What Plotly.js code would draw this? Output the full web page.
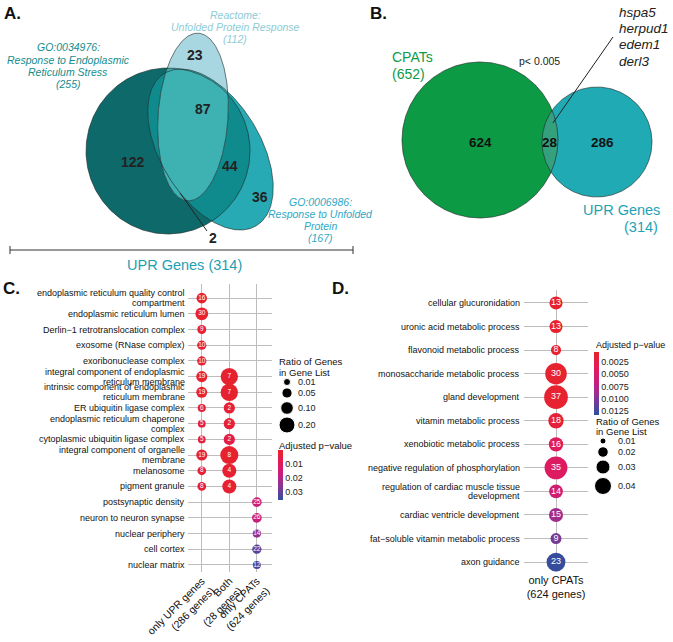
<!DOCTYPE html>
<html><head><meta charset="utf-8">
<script src="https://cdn.plot.ly/plotly-3.0.1.min.js"></script>
<style>html,body{margin:0;padding:0;background:#fff}#chart{width:673px;height:642px}</style>
</head><body><div id="chart"></div>
<script>
// ================= DATA =================
// Panel A: UPR gene sets
const vennA_setNames = ["GO:0034976:", "Reactome:", "GO:0006986:"];
const vennA_setDesc = [["Response to Endoplasmic", "Reticulum Stress"], ["Unfolded Protein Response"], ["Response to Unfolded", "Protein"]];
const vennA_setSizes = [255, 112, 167];
const vennA_regionCounts = [23, 87, 122, 44, 36, 2]; // Reactome only, all three, ER only, ER+UPR, UPR only, ER+Reactome
const vennA_total = 314;
// Panel B
const vennB_setNames = ["CPATs", "UPR Genes"];
const vennB_setSizes = [652, 314];
const vennB_regionCounts = [624, 28, 286];
const vennB_pText = "p< 0.005";
const vennB_genes = ["hspa5", "herpud1", "edem1", "derl3"];
// Panel C
const cColumns = ["only UPR genes<br>(286 genes)", "Both<br>(28 genes)", "only CPATs<br>(624 genes)"];
const cTerms = [
  "endoplasmic reticulum quality control<br>compartment",
  "endoplasmic reticulum lumen",
  "Derlin\u22121 retrotranslocation complex",
  "exosome (RNase complex)",
  "exoribonuclease complex",
  "integral component of endoplasmic<br>reticulum membrane",
  "intrinsic component of endoplasmic<br>reticulum membrane",
  "ER ubiquitin ligase complex",
  "endoplasmic reticulum chaperone<br>complex",
  "cytoplasmic ubiquitin ligase complex",
  "integral component of organelle<br>membrane",
  "melanosome",
  "pigment granule",
  "postsynaptic density",
  "neuron to neuron synapse",
  "nuclear periphery",
  "cell cortex",
  "nuclear matrix"];
const cCountUPR  = [16, 30, 9, 10, 10, 19, 19, 6, 5, 5, 19, 8, 8, null, null, null, null, null];
const cRatioUPR  = [0.056, 0.105, 0.031, 0.035, 0.035, 0.066, 0.066, 0.021, 0.017, 0.017, 0.066, 0.028, 0.028, null, null, null, null, null];
const cPadjUPR   = [0.001, 0.0005, 0.002, 0.002, 0.002, 0.001, 0.001, 0.002, 0.003, 0.003, 0.002, 0.003, 0.003, null, null, null, null, null];
const cCountBoth = [null, null, null, null, null, 7, 7, 2, 2, 2, 8, 4, 4, null, null, null, null, null];
const cRatioBoth = [null, null, null, null, null, 0.25, 0.25, 0.07, 0.07, 0.07, 0.28, 0.14, 0.14, null, null, null, null, null];
const cPadjBoth  = [null, null, null, null, null, 0.001, 0.001, 0.003, 0.003, 0.006, 0.001, 0.002, 0.002, null, null, null, null, null];
const cCountCPAT = [null, null, null, null, null, null, null, null, null, null, null, null, null, 25, 26, 14, 22, 12];
const cRatioCPAT = [null, null, null, null, null, null, null, null, null, null, null, null, null, 0.040, 0.042, 0.022, 0.035, 0.019];
const cPadjCPAT  = [null, null, null, null, null, null, null, null, null, null, null, null, null, 0.016, 0.017, 0.024, 0.031, 0.033];
const cSizeLegend = [0.01, 0.05, 0.10, 0.20];
const cSizeLegendText = ["0.01", "0.05", "0.10", "0.20"];
const cColorTicks = [0.01, 0.02, 0.03];
const cColorTickText = ["0.01", "0.02", "0.03"];
// Panel D
const dColumn = ["only CPATs<br>(624 genes)"];
const dTerms = [
  "cellular glucuronidation",
  "uronic acid metabolic process",
  "flavonoid metabolic process",
  "monosaccharide metabolic process",
  "gland development",
  "vitamin metabolic process",
  "xenobiotic metabolic process",
  "negative regulation of phosphorylation",
  "regulation of cardiac muscle tissue<br>development",
  "cardiac ventricle development",
  "fat\u2212soluble vitamin metabolic process",
  "axon guidance"];
const dCount = [13, 13, 8, 30, 37, 18, 16, 35, 14, 15, 9, 23];
const dRatio = [0.027, 0.027, 0.019, 0.058, 0.068, 0.034, 0.031, 0.064, 0.029, 0.030, 0.021, 0.047];
const dPadj  = [0.0008, 0.0008, 0.0010, 0.0010, 0.0010, 0.0015, 0.0040, 0.0045, 0.0058, 0.0085, 0.0105, 0.0130];
const dSizeLegend = [0.01, 0.02, 0.03, 0.04];
const dSizeLegendText = ["0.01", "0.02", "0.03", "0.04"];
const dColorTicks = [0.0025, 0.005, 0.0075, 0.01, 0.0125];
const dColorTickText = ["0.0025", "0.0050", "0.0075", "0.0100", "0.0125"];

// ================= LAYOUT / STYLE =================
const W = 673, H = 642;
const FONT = "Liberation Sans, Arial, Helvetica, sans-serif";
const pColorscale = [[0, '#e8232a'], [0.28, '#e01a5c'], [0.5, '#c41f80'], [0.72, '#883594'], [1, '#2f4f9f']];
const sizeC = r => 4.4 + 25.9 * Math.sqrt(r);
const sizeD = r => -5 + 110 * Math.sqrt(r);
const neg = v => -v; // colour axis runs top (low p) to bottom (high p)

// Venn geometry (pixel canvas)
const gD = {cx: 168, cy: 151, rx: 82, ry: 83, ang: 0};
const gL = {cx: 193, cy: 117, rx: 35, ry: 84, ang: 3.7};
const gM = {cx: 210.5, cy: 149.5, rx: 89, ry: 50, ang: 59};
const gG = {cx: 480, cy: 140, rx: 78, ry: 78, ang: 0};
const gU = {cx: 597, cy: 142, rx: 55, ry: 55, ang: 0};

function ell(g, n) {
  const xs = [], ys = [], a = g.ang * Math.PI / 180;
  for (let i = 0; i <= n; i++) {
    const t = 2 * Math.PI * i / n, px = g.rx * Math.cos(t), py = g.ry * Math.sin(t);
    xs.push(g.cx + px * Math.cos(a) - py * Math.sin(a));
    ys.push(g.cy + px * Math.sin(a) + py * Math.cos(a));
  }
  return {xs, ys};
}
function inside(g, x, y) {
  const a = g.ang * Math.PI / 180, dx = x - g.cx, dy = y - g.cy;
  const u = dx * Math.cos(a) + dy * Math.sin(a), v = -dx * Math.sin(a) + dy * Math.cos(a);
  return (u * u) / (g.rx * g.rx) + (v * v) / (g.ry * g.ry) <= 1.0001;
}
function inter(gs) {
  const pts = [];
  gs.forEach((g, i) => {
    const e = ell(g, 1440);
    for (let k = 0; k < e.xs.length - 1; k++) {
      if (gs.every((h, j) => j === i || inside(h, e.xs[k], e.ys[k]))) pts.push([e.xs[k], e.ys[k]]);
    }
  });
  const mx = pts.reduce((s, p) => s + p[0], 0) / pts.length, my = pts.reduce((s, p) => s + p[1], 0) / pts.length;
  pts.sort((p, q) => Math.atan2(p[1] - my, p[0] - mx) - Math.atan2(q[1] - my, q[0] - mx));
  pts.push(pts[0]);
  return {xs: pts.map(p => p[0]), ys: pts.map(p => p[1])};
}
function fillTrace(poly, color) {
  return {type: 'scatter', mode: 'lines', x: poly.xs, y: poly.ys, fill: 'toself', fillcolor: color,
    line: {width: 0, color: color}, hoverinfo: 'skip', xaxis: 'x', yaxis: 'y'};
}
function outlineTrace(g) {
  const e = ell(g, 360);
  return {type: 'scatter', mode: 'lines', x: e.xs, y: e.ys, line: {width: 0.8, color: 'rgba(25,35,35,0.75)'},
    hoverinfo: 'skip', xaxis: 'x', yaxis: 'y'};
}

const traces = [];
// Panel A regions
traces.push(fillTrace(ell(gD, 360), '#0e6a6a'));
traces.push(fillTrace(ell(gM, 360), '#27aab3'));
traces.push(fillTrace(inter([gD, gM]), '#108b8d'));
traces.push(fillTrace(ell(gL, 360), '#a9d7e1'));
traces.push(fillTrace(inter([gL, gM]), '#3eb1b3'));
traces.push(fillTrace(inter([gL, gD]), '#3eb1b3'));
[gD, gM, gL].forEach(g => traces.push(outlineTrace(g)));
// Panel B regions
traces.push(fillTrace(ell(gG, 360), '#0c9a44'));
traces.push(fillTrace(ell(gU, 360), '#1faab4'));
traces.push(fillTrace(inter([gG, gU]), '#35a07c'));
[gG, gU].forEach(g => traces.push(outlineTrace(g)));

// Panel C dot plot
function colPoints(col, counts, ratios, padj) {
  const o = {x: [], y: [], t: [], s: [], c: []};
  counts.forEach((v, i) => {
    if (v !== null) { o.x.push(col); o.y.push(cTerms[i]); o.t.push(String(v)); o.s.push(sizeC(ratios[i])); o.c.push(neg(padj[i])); }
  });
  return o;
}
const cP = [colPoints(cColumns[0], cCountUPR, cRatioUPR, cPadjUPR),
            colPoints(cColumns[1], cCountBoth, cRatioBoth, cPadjBoth),
            colPoints(cColumns[2], cCountCPAT, cRatioCPAT, cPadjCPAT)];
const cAll = {x: [], y: [], t: [], s: [], c: []};
cP.forEach(p => { for (const k in cAll) cAll[k] = cAll[k].concat(p[k]); });
traces.push({
  type: 'scatter', mode: 'markers+text', xaxis: 'x2', yaxis: 'y2',
  x: cAll.x, y: cAll.y, text: cAll.t, textposition: 'middle center',
  textfont: {color: 'white', size: 6.5, family: FONT}, hoverinfo: 'skip', cliponaxis: false,
  marker: {size: cAll.s, color: cAll.c, opacity: 1, colorscale: pColorscale, reversescale: true,
    cmin: -0.0357, cmax: 0, line: {width: 0}, showscale: true,
    colorbar: {x: 278 / W, xanchor: 'left', xref: 'paper', y: 1 - 450 / H, yanchor: 'top', yref: 'paper',
      len: 50, lenmode: 'pixels', thickness: 5, thicknessmode: 'pixels', xpad: 0, ypad: 0, outlinewidth: 0,
      tickvals: cColorTicks.map(neg), ticktext: cColorTickText, ticks: '',
      tickfont: {size: 9, family: FONT, color: '#222'}, title: {text: ''}}}
});
// Panel D dot plot
traces.push({
  type: 'scatter', mode: 'markers+text', xaxis: 'x3', yaxis: 'y3',
  x: dTerms.map(() => dColumn[0]), y: dTerms, text: dCount.map(String), textposition: 'middle center',
  textfont: {color: 'white', size: 9, family: FONT}, hoverinfo: 'skip', cliponaxis: false,
  marker: {size: dRatio.map(sizeD), color: dPadj.map(neg), opacity: 1, colorscale: pColorscale, reversescale: true,
    cmin: -0.0133, cmax: -0.0005, line: {width: 0}, showscale: true,
    colorbar: {x: 594 / W, xanchor: 'left', xref: 'paper', y: 1 - 352 / H, yanchor: 'top', yref: 'paper',
      len: 63, lenmode: 'pixels', thickness: 5, thicknessmode: 'pixels', xpad: 0, ypad: 0, outlinewidth: 0,
      tickvals: dColorTicks.map(neg), ticktext: dColorTickText, ticks: '',
      tickfont: {size: 9, family: FONT, color: '#222'}, title: {text: ''}}}
});
// Size legends (drawn on pixel canvas)
const cLegY = [382, 393, 408, 425];
traces.push({type: 'scatter', mode: 'markers', xaxis: 'x', yaxis: 'y', x: cSizeLegend.map(() => 287), y: cLegY,
  marker: {size: cSizeLegend.map(sizeC), color: '#000', opacity: 1}, hoverinfo: 'skip'});
const dLegY = [441, 452, 467, 486];
traces.push({type: 'scatter', mode: 'markers', xaxis: 'x', yaxis: 'y', x: dSizeLegend.map(() => 603), y: dLegY,
  marker: {size: dSizeLegend.map(sizeD), color: '#000', opacity: 1}, hoverinfo: 'skip'});

// ================= ANNOTATIONS =================
const anns = [];
function ann(x, y, text, size, color, opts) {
  anns.push(Object.assign({x: x, y: y, xref: 'x', yref: 'y', text: text, showarrow: false,
    xanchor: 'center', yanchor: 'middle', font: {size: size, color: color, family: FONT}}, opts || {}));
}
// Row labels for the dot plots (right aligned, tight line spacing)
function rowLabels(terms, xPix, yref, size, gap) {
  terms.forEach((t, i) => {
    const lines = t.split('<br>');
    lines.forEach((ln, k) => {
      const shift = lines.length === 1 ? 0 : (k === 0 ? gap : -gap);
      anns.push({xref: 'paper', x: xPix / W, yref: yref, y: i, yshift: shift, text: ln, showarrow: false,
        xanchor: 'right', yanchor: 'middle', borderpad: 0, font: {size: size, color: '#111', family: FONT}});
    });
  });
}
rowLabels(cTerms, 186, 'y2', 9, 4.9);
rowLabels(dTerms, 521, 'y3', 9, 4.9);
// Panel letters
ann(12, 13, '<b>A.</b>', 17, '#111');
ann(378, 13, '<b>B.</b>', 17, '#111');
ann(11, 288, '<b>C.</b>', 17, '#111');
ann(340, 288, '<b>D.</b>', 17, '#111');
// Panel A set labels
const colD = '#158d8d', colL = '#8ecbd6', colM = '#2ea7c6';
ann(235, 15, '<i>' + vennA_setNames[1] + '</i>', 10.5, colL);
ann(235, 27, '<i>' + vennA_setDesc[1][0] + '</i>', 10.5, colL);
ann(235, 39, '<i>(' + vennA_setSizes[1] + ')</i>', 10.5, colL);
ann(68, 47, '<i>' + vennA_setNames[0] + '</i>', 10.5, colD);
ann(68, 60, '<i>' + vennA_setDesc[0][0] + '</i>', 10.5, colD);
ann(68, 72, '<i>' + vennA_setDesc[0][1] + '</i>', 10.5, colD);
ann(68, 84, '<i>(' + vennA_setSizes[0] + ')</i>', 10.5, colD);
ann(320, 202, '<i>' + vennA_setNames[2] + '</i>', 10.5, colM);
ann(320, 214, '<i>' + vennA_setDesc[2][0] + '</i>', 10.5, colM);
ann(320, 226, '<i>' + vennA_setDesc[2][1] + '</i>', 10.5, colM);
ann(320, 238, '<i>(' + vennA_setSizes[2] + ')</i>', 10.5, colM);
// Panel A counts
const aCountPos = [[195, 55], [203, 109], [133, 162], [230, 166], [260, 197], [213, 238]];
vennA_regionCounts.forEach((v, i) => ann(aCountPos[i][0], aCountPos[i][1], '<b>' + v + '</b>', 14, '#222'));
ann(184, 265, 'UPR Genes (' + vennA_total + ')', 14.5, '#1ea0b2');
// Panel B labels
ann(390, 57, vennB_setNames[0], 14, '#0e9a48', {xanchor: 'left'});
ann(390, 74, '(' + vennB_setSizes[0] + ')', 14, '#0e9a48', {xanchor: 'left'});
ann(539, 61, vennB_pText, 10.5, '#222');
vennB_genes.forEach((g, i) => ann(617, 12 + 16.4 * i, '<i>' + g + '</i>', 13.5, '#222', {xanchor: 'left'}));
const bCountPos = [[480, 142], [550, 142], [602, 142]];
vennB_regionCounts.forEach((v, i) => ann(bCountPos[i][0], bCountPos[i][1], '<b>' + v + '</b>', 13.5, '#111'));
ann(621, 210, vennB_setNames[1], 14.5, '#1ea2b4');
ann(660, 227, '(' + vennB_setSizes[1] + ')', 14.5, '#1ea2b4', {xanchor: 'right'});
// Legend texts C
ann(277, 361, 'Ratio of Genes', 9.5, '#111', {xanchor: 'left'});
ann(277, 372, 'in Gene List', 9.5, '#111', {xanchor: 'left'});
cSizeLegendText.forEach((t, i) => ann(296, cLegY[i], t, 9, '#222', {xanchor: 'left'}));
ann(277, 445, 'Adjusted p\u2212value', 9.5, '#111', {xanchor: 'left'});
// Legend texts D
ann(594, 345, 'Adjusted p\u2212value', 9, '#111', {xanchor: 'left'});
ann(594, 421, 'Ratio of Genes', 9.5, '#111', {xanchor: 'left'});
ann(594, 431, 'in Gene List', 9.5, '#111', {xanchor: 'left'});
dSizeLegendText.forEach((t, i) => ann(616, dLegY[i], t, 9, '#222', {xanchor: 'left'}));

// Shapes: bracket and leader lines (pixel canvas)
const lineStyle = {color: '#333', width: 1};
const shapes = [
  {type: 'line', xref: 'x', yref: 'y', x0: 10, x1: 353, y0: 250, y1: 250, line: lineStyle},
  {type: 'line', xref: 'x', yref: 'y', x0: 10, x1: 10, y0: 246, y1: 254, line: lineStyle},
  {type: 'line', xref: 'x', yref: 'y', x0: 353, x1: 353, y0: 246, y1: 254, line: lineStyle},
  {type: 'line', xref: 'x', yref: 'y', x0: 180, x1: 207, y0: 193, y1: 231, line: {color: '#222', width: 1}},
  {type: 'line', xref: 'x', yref: 'y', x0: 553, x1: 613, y0: 123, y1: 37, line: {color: '#222', width: 1}}
];

const hidden = {visible: false, fixedrange: true};
const layout = {
  width: W, height: H, margin: {l: 0, r: 0, t: 0, b: 0}, paper_bgcolor: '#fff', plot_bgcolor: 'rgba(0,0,0,0)',
  showlegend: false, font: {family: FONT},
  xaxis: Object.assign({domain: [0, 1], range: [0, W]}, hidden),
  yaxis: Object.assign({domain: [0, 1], range: [H, 0]}, hidden),
  xaxis2: {domain: [188 / W, 272 / W], anchor: 'y2', type: 'category', categoryorder: 'array', categoryarray: cColumns,
    range: [-0.5, 2.55], showgrid: true, gridcolor: '#bdbdbd', gridwidth: 1, zeroline: false, showline: false,
    ticks: '', tickangle: -45, tickfont: {size: 10.5, color: '#111', family: FONT}, automargin: false, fixedrange: true},
  yaxis2: {domain: [1 - 572 / H, 1 - 284 / H], anchor: 'x2', type: 'category', categoryorder: 'array', categoryarray: cTerms,
    range: [17.45, -0.9], showgrid: true, gridcolor: '#bdbdbd', gridwidth: 1, zeroline: false, showline: false,
    ticks: '', showticklabels: false, automargin: false, fixedrange: true},
  xaxis3: {domain: [524 / W, 588 / W], anchor: 'y3', type: 'category', categoryarray: dColumn, categoryorder: 'array',
    range: [-0.5, 0.5], showgrid: true, gridcolor: '#bdbdbd', gridwidth: 1, zeroline: false, showline: false,
    ticks: '', tickfont: {size: 11, color: '#111', family: FONT}, automargin: false, fixedrange: true},
  yaxis3: {domain: [1 - 572 / H, 1 - 290 / H], anchor: 'x3', type: 'category', categoryorder: 'array', categoryarray: dTerms,
    range: [11.42, -0.55], showgrid: true, gridcolor: '#bdbdbd', gridwidth: 1, zeroline: false, showline: false,
    ticks: '', showticklabels: false, automargin: false, fixedrange: true},
  annotations: anns, shapes: shapes
};
Plotly.newPlot('chart', traces, layout, {displayModeBar: false, staticPlot: true});
</script></body></html>
